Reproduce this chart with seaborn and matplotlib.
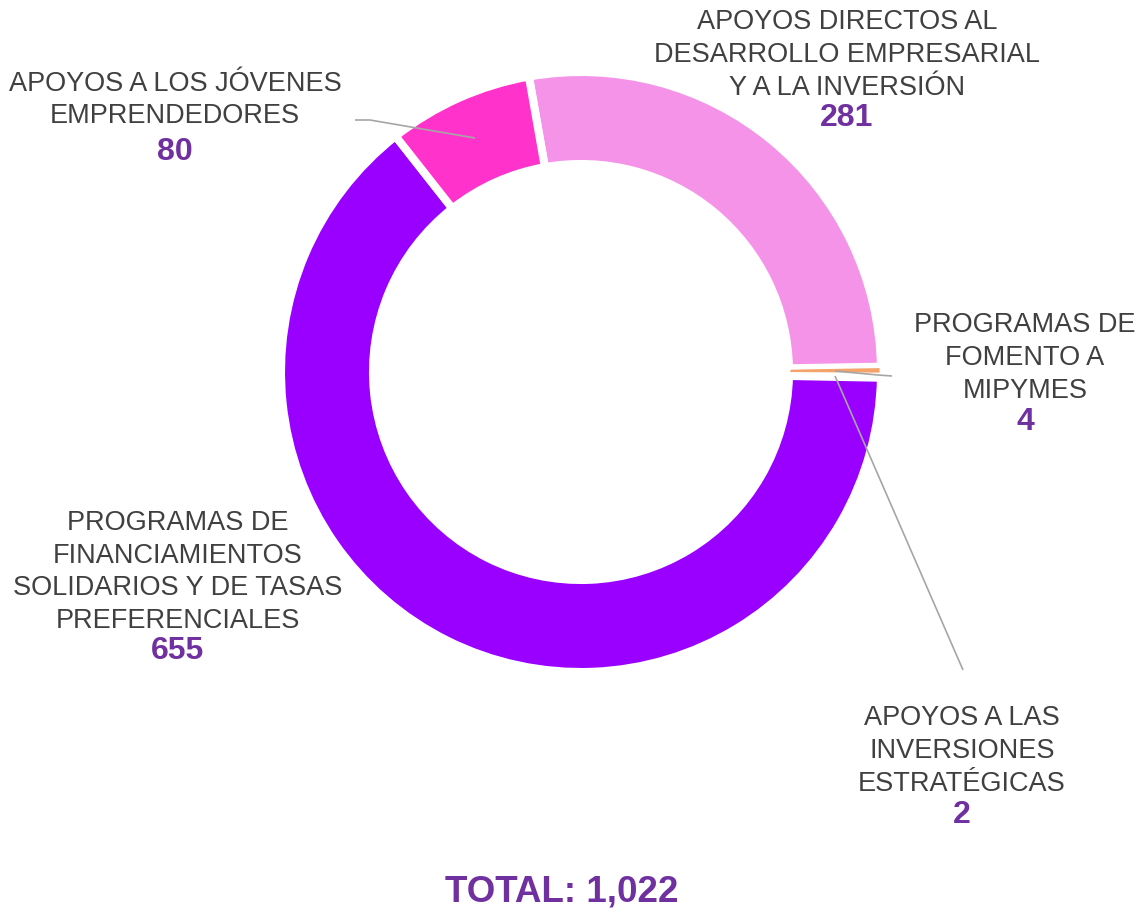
import numpy as np
import matplotlib
matplotlib.use('Agg')
import matplotlib.pyplot as plt
import seaborn as sns

# chart data
categories = ['APOYOS DIRECTOS AL\nDESARROLLO EMPRESARIAL\nY A LA INVERSIÓN',
              'PROGRAMAS DE\nFOMENTO A\nMIPYMES',
              'APOYOS A LAS\nINVERSIONES\nESTRATÉGICAS',
              'PROGRAMAS DE\nFINANCIAMIENTOS\nSOLIDARIOS Y DE TASAS\nPREFERENCIALES',
              'APOYOS A LOS JÓVENES\nEMPRENDEDORES']
values = [281, 4, 2, 655, 80]
colors = ['#F593E8', '#F4A36A', '#D9D9D9', '#9900FF', '#FF33CC']
total_label = 'TOTAL: 1,022'

W, H = 1140, 911

def py(y):
    # picture rows -> data y
    return H - y

sns.set_style('white')
plt.rcParams['font.family'] = ['Liberation Sans', 'DejaVu Sans']

fig = plt.figure(figsize=(W / 100, H / 100), dpi=100)
ax = fig.add_axes([0, 0, 1, 1])

wedges, _ = ax.pie(values, colors=colors, center=(581, py(372)), radius=300,
                   startangle=100, counterclock=False, frame=False,
                   wedgeprops=dict(width=92, edgecolor='white', linewidth=5.8))

# keep the thin orange slice visible above the white gaps
wedges[1].set_zorder(3)
wedges[1].set_linewidth(2)

ax.set_xlim(0, W)
ax.set_ylim(0, H)
ax.set_aspect('equal')
ax.axis('off')

# leader lines
line_kw = dict(color='#A6A6A6', lw=1.2, zorder=5, solid_capstyle='butt')
ax.plot([475, 370, 355], [py(138), py(120), py(120)], **line_kw)
ax.plot([835, 878, 892], [py(371), py(375), py(376)], **line_kw)
ax.plot([835, 963], [py(376), py(670)], **line_kw)

# labels: (x, y of category block, y of value)
label_pos = [(847, 55, 118), (1025, 358, 422), (962, 751, 815),
             (178, 572, 651), (175, 100, 152)]
for cat, val, (x, yc, yv) in zip(categories, values, label_pos):
    ax.text(x, py(yc), cat, ha='center', va='center', fontsize=19.5,
            color='#404040', linespacing=1.34)
    ax.text(x, py(yv), f'{val:,}', ha='center', va='center', fontsize=23,
            color='#7030A0', fontweight='bold')

ax.text(562, py(892), total_label, ha='center', va='center', fontsize=26.5,
        color='#7030A0', fontweight='bold')

fig.savefig('out.png', dpi=100)
